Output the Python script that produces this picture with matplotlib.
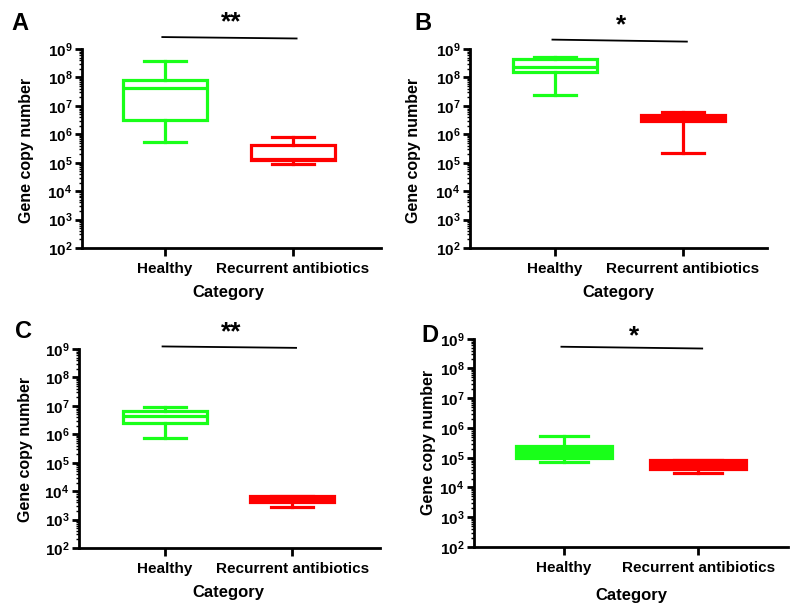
import matplotlib
matplotlib.use("Agg")
import matplotlib.pyplot as plt
from matplotlib.ticker import LogLocator, FuncFormatter, NullFormatter
import numpy as np

plt.rcParams["font.family"] = ["Liberation Sans", "DejaVu Sans"]
plt.rcParams["font.weight"] = "bold"
plt.rcParams["mathtext.fontset"] = "custom"
plt.rcParams["mathtext.rm"] = "Liberation Sans:bold"
plt.rcParams["mathtext.bf"] = "Liberation Sans:bold"

CATEGORIES = ["Healthy", "Recurrent antibiotics"]
PANELS = ["A", "B", "C", "D"]
STARS = ["**", "*", "**", "*"]

# box stats per panel: [healthy, recurrent] -> (whislo, q1, med, q3, whishi)
HEALTHY_STATS = [
    (5.3e5, 3.2e6, 4.3e7, 8.1e7, 3.8e8),
    (2.5e7, 1.5e8, 2.3e8, 4.4e8, 5.2e8),
    (7.4e5, 2.5e6, 4.3e6, 6.7e6, 8.9e6),
    (7.0e4, 9.8e4, 1.5e5, 2.4e5, 5.2e5),
]
RECURRENT_STATS = [
    (9.1e4, 1.2e5, 1.4e5, 4.2e5, 8.0e5),
    (2.2e5, 2.9e6, 3.8e6, 4.8e6, 6.2e6),
    (2.7e3, 4.3e3, 5.3e3, 6.6e3, 6.6e3),
    (3.1e4, 4.3e4, 6.0e4, 8.2e4, 8.2e4),
]

GREEN = "#19FF19"
RED = "#FF0000"

# layout in figure pixels (800 x 616)
W, H = 800, 616
AX_PX = [(82, 49, 381, 248), (470, 49, 767, 248), (79, 349, 380, 548), (474, 338.7, 788, 547)]
XLIMS = [(0.352, 2.69), (0.336, 2.656), (0.323, 2.69), (0.328, 2.67)]
BOX_W = [0.66, 0.66, 0.66, 0.72]
FILLED = [False, False, False, True]
# significance bar (log10 y at left/right end) and star top
BAR_Y = [(9.42, 9.37), (9.33, 9.26), (9.09, 9.04), (8.73, 8.67)]
STAR_Y = [10.36, 10.25, 10.01, 9.48]
YLABEL_XY = [(-0.184, 0.49), (-0.189, 0.49), (-0.179, 0.497), (-0.146, 0.5)]
XLABEL_XY = [(0.488, -0.226), (0.498, -0.226), (0.495, -0.226), (0.5, -0.231)]
LETTER_XY = [(20, 24), (423, 24), (24, 332), (430, 336)]


def log_fmt(v, pos):
    e = int(round(np.log10(v)))
    return r"$\mathbf{10^{%d}}$" % e


fig = plt.figure(figsize=(W / 100, H / 100), dpi=100)

for i in range(4):
    l, t, r, b = AX_PX[i]
    ax = fig.add_axes([l / W, 1 - b / H, (r - l) / W, (b - t) / H])
    stats = []
    for lab, s in zip(CATEGORIES, [HEALTHY_STATS[i], RECURRENT_STATS[i]]):
        stats.append(dict(label=lab, whislo=s[0], q1=s[1], med=s[2], q3=s[3], whishi=s[4], fliers=[]))
    bp = ax.bxp(stats, positions=[1, 2], widths=BOX_W[i], showfliers=False,
                patch_artist=True)
    for k, col in enumerate([GREEN, RED]):
        box = bp["boxes"][k]
        box.set_edgecolor(col)
        box.set_facecolor(col if FILLED[i] else "white")
        box.set_linewidth(2.3)
        bp["medians"][k].set_color(col)
        bp["medians"][k].set_linewidth(2.3)
        for ln in bp["whiskers"][2 * k:2 * k + 2] + bp["caps"][2 * k:2 * k + 2]:
            ln.set_color(col)
            ln.set_linewidth(2.3)

    ax.set_yscale("log")
    ax.set_ylim(1e2, 1e9)
    ax.set_xlim(*XLIMS[i])
    ax.yaxis.set_major_locator(LogLocator(base=10, numticks=10))
    ax.yaxis.set_minor_locator(LogLocator(base=10, subs=np.arange(2, 10), numticks=10))
    ax.yaxis.set_major_formatter(FuncFormatter(log_fmt))
    ax.yaxis.set_minor_formatter(NullFormatter())
    ax.set_xticks([1, 2])
    ax.set_xticklabels(CATEGORIES, fontsize=11, fontweight="bold")

    for side in ["top", "right"]:
        ax.spines[side].set_visible(False)
    for side in ["left", "bottom"]:
        ax.spines[side].set_linewidth(2)
    ax.tick_params(axis="y", which="major", length=5, width=2, labelsize=11, pad=2)
    ax.tick_params(axis="y", which="minor", length=2.5, width=1)
    ax.tick_params(axis="x", length=6, width=2, pad=4)

    ax.set_ylabel("Gene copy number", fontsize=11.5, fontweight="bold", va="center")
    ax.yaxis.set_label_coords(*YLABEL_XY[i])
    ax.set_xlabel("Category", fontsize=12, fontweight="bold", va="center")
    ax.xaxis.set_label_coords(*XLABEL_XY[i])

    y0, y1 = BAR_Y[i]
    ax.plot([0.98, 2.03], [10 ** y0, 10 ** y1], color="black", lw=1.3, clip_on=False)
    ax.text(1.52, 10 ** STAR_Y[i], STARS[i], ha="center", va="top", fontsize=19,
            fontweight="bold", clip_on=False)

    lx, ly = LETTER_XY[i]
    fig.text(lx / W, 1 - ly / H, PANELS[i], ha="center", va="center",
             fontsize=17, fontweight="bold")

fig.savefig("out.png", dpi=100, facecolor="white")
